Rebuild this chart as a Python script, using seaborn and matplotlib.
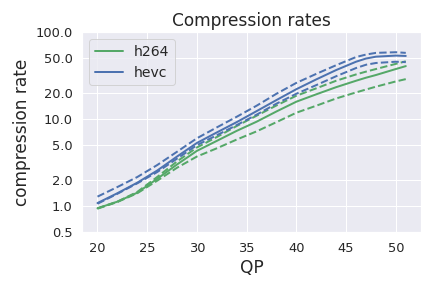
import numpy as np
import matplotlib
matplotlib.use("Agg")
import matplotlib.pyplot as plt
import matplotlib.ticker as mticker
import seaborn as sns

qp = [20, 22, 24, 26, 28, 30, 32, 34, 36, 38, 40, 42, 44, 46, 47, 48, 50, 51]

# h264: mean and upper / lower bounds
h264_mean = [0.94, 1.12, 1.42, 2.05, 3.0, 4.3, 5.6, 7.3, 9.3, 12.2, 15.8, 19.2, 23.2, 27.5, 29.8, 32.0, 37.5, 40.5]
h264_hi = [0.94, 1.12, 1.45, 2.15, 3.25, 4.7, 6.2, 8.3, 10.9, 14.3, 18.5, 22.5, 27.5, 32.5, 35.0, 37.5, 43.0, 46.0]
h264_lo = [0.93, 1.11, 1.40, 1.95, 2.75, 3.7, 4.6, 5.8, 7.2, 9.2, 11.8, 14.2, 17.2, 20.2, 21.8, 23.5, 27.0, 28.7]

# hevc: mean and upper / lower bounds
hevc_mean = [1.08, 1.40, 1.85, 2.55, 3.7, 5.3, 7.0, 9.2, 12.3, 16.5, 22.0, 28.5, 36.5, 45.5, 49.5, 52.0, 53.5, 53.0]
hevc_hi = [1.28, 1.65, 2.15, 2.95, 4.2, 6.0, 8.0, 10.6, 14.2, 19.5, 26.0, 33.0, 41.5, 51.5, 55.0, 57.5, 58.5, 57.5]
hevc_lo = [1.06, 1.38, 1.82, 2.45, 3.5, 5.0, 6.5, 8.5, 11.2, 15.0, 19.5, 24.5, 31.0, 38.5, 42.0, 44.0, 45.5, 45.0]

yticks = [0.5, 1, 2, 5, 10, 20, 50, 100]

sns.set_theme(style="darkgrid")
pal = sns.color_palette("deep")
green, blue = pal[2], pal[0]

fig, ax = plt.subplots(figsize=(6, 4), dpi=72)

lw = 2
sns.lineplot(x=qp, y=h264_mean, color=green, lw=lw, label="h264", ax=ax)
sns.lineplot(x=qp, y=h264_hi, color=green, lw=lw, linestyle="--", ax=ax)
sns.lineplot(x=qp, y=h264_lo, color=green, lw=lw, linestyle="--", ax=ax)
sns.lineplot(x=qp, y=hevc_mean, color=blue, lw=lw, label="hevc", ax=ax)
sns.lineplot(x=qp, y=hevc_hi, color=blue, lw=lw, linestyle="--", ax=ax)
sns.lineplot(x=qp, y=hevc_lo, color=blue, lw=lw, linestyle="--", ax=ax)

ax.set_yscale("log")
ax.set_ylim(0.5, 100)
ax.set_yticks(yticks)
ax.yaxis.set_major_formatter(mticker.FormatStrFormatter("%.1f"))
ax.yaxis.set_minor_locator(mticker.NullLocator())
ax.set_xticks([20, 25, 30, 35, 40, 45, 50])
ax.tick_params(labelsize=13)

ax.set_title("Compression rates", fontsize=17)
ax.set_xlabel("QP", fontsize=17)
ax.set_ylabel("compression rate", fontsize=17)
ax.legend(loc="upper left", fontsize=14)

fig.subplots_adjust(left=0.19, right=0.975, bottom=0.194, top=0.889)
fig.savefig("out.png")
